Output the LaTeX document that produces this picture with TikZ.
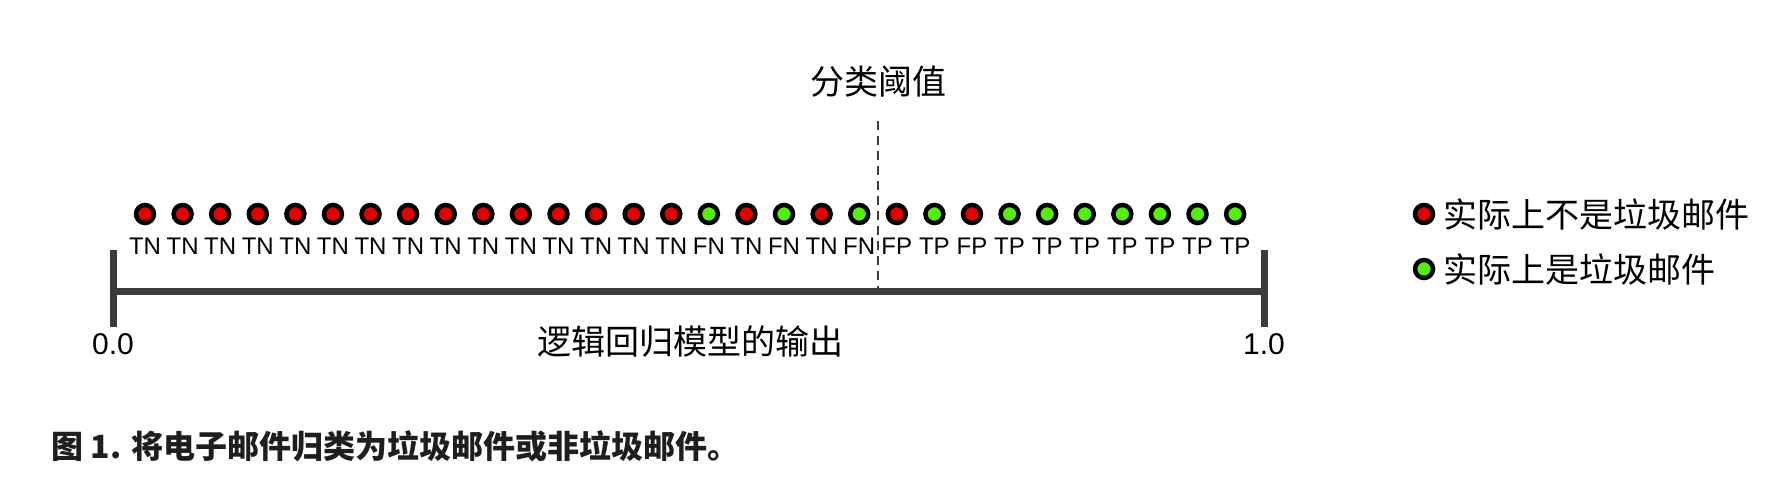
\documentclass[tikz,border=0pt]{standalone}
\usepackage{fontspec}
\setmainfont{Liberation Sans}
\newfontfamily\cjk{Noto Sans CJK SC}
\usepackage{tikz}
\usetikzlibrary{positioning}
\usepackage{xcolor}
\definecolor{notspam}{RGB}{228,0,0}
\definecolor{isspam}{RGB}{84,238,10}
\definecolor{axisgray}{RGB}{60,60,60}
\definecolor{captext}{RGB}{30,30,30}

\begin{document}
\begin{tikzpicture}[x=1pt, y=-1pt,
    mail/.style={circle, draw=black, line width=4.5pt, minimum size=18pt,
      inner sep=0pt},
    tag/.style={font=\fontsize{24}{26}\selectfont, inner sep=0pt},
    num/.style={font=\fontsize{30}{32}\selectfont, inner sep=0pt},
    zh/.style={font=\cjk\fontsize{34}{38}\selectfont, inner sep=0pt},
    axis/.style={line width=7pt, axisgray},
    cut/.style={line width=1.8pt, axisgray, dash pattern=on 9pt off 6pt},
  ]
  \useasboundingbox (0,0) rectangle (1786,494);

  % Threshold
  \node[zh] (thr) at (878,82) {分类阈值};
  \coordinate (thrtop) at (878,121);
  \coordinate (thrbot) at (878,290);
  \draw[cut] (thrtop) -- (thrbot);

  % Emails and their outcome
  \foreach \c/\t [count=\i] in {notspam/TN, notspam/TN, notspam/TN,
      notspam/TN, notspam/TN, notspam/TN, notspam/TN, notspam/TN,
      notspam/TN, notspam/TN, notspam/TN, notspam/TN, notspam/TN,
      notspam/TN, notspam/TN, isspam/FN, notspam/TN, isspam/FN,
      notspam/TN, isspam/FN, notspam/FP, isspam/TP, notspam/FP,
      isspam/TP, isspam/TP, isspam/TP, isspam/TP, isspam/TP,
      isspam/TP, isspam/TP} {
    \node[mail, fill=\c] (d\i) at ({145+(\i-1)*37.59}, 214) {};
    \node[tag] (t\i) at ({145+(\i-1)*37.59}, 246) {\t};
  }

  % Axis
  \coordinate (a0) at (113,292);
  \coordinate (a1) at (1264,292);
  \coordinate (a0top) at (113,250);
  \coordinate (a0bot) at (113,327);
  \coordinate (a1top) at (1264,250);
  \coordinate (a1bot) at (1264,327);
  \draw[axis] (a0) -- (a1);
  \draw[axis] (a0top) -- (a0bot);
  \draw[axis] (a1top) -- (a1bot);
  \node[num] (lo) at (113,344) {0.0};
  \node[num] (hi) at (1264,344) {1.0};
  \node[zh] (axlabel) at (690,342) {逻辑回归模型的输出};

  % Legend
  \node[mail, fill=notspam] (kneg) at (1424,214) {};
  \node[mail, fill=isspam] (kpos) at (1424,269) {};
  \node[zh, anchor=west] (kneglbl) at (1443,214) {实际上不是垃圾邮件};
  \node[zh, anchor=west] (kposlbl) at (1443,269) {实际上是垃圾邮件};

  % Caption
  \node[font=\cjk\bfseries\fontsize{32}{36}\selectfont, text=captext,
    inner sep=0pt, anchor=west] (cap) at (51,446)
    {图 1. 将电子邮件归类为垃圾邮件或非垃圾邮件。};
\end{tikzpicture}
\end{document}
